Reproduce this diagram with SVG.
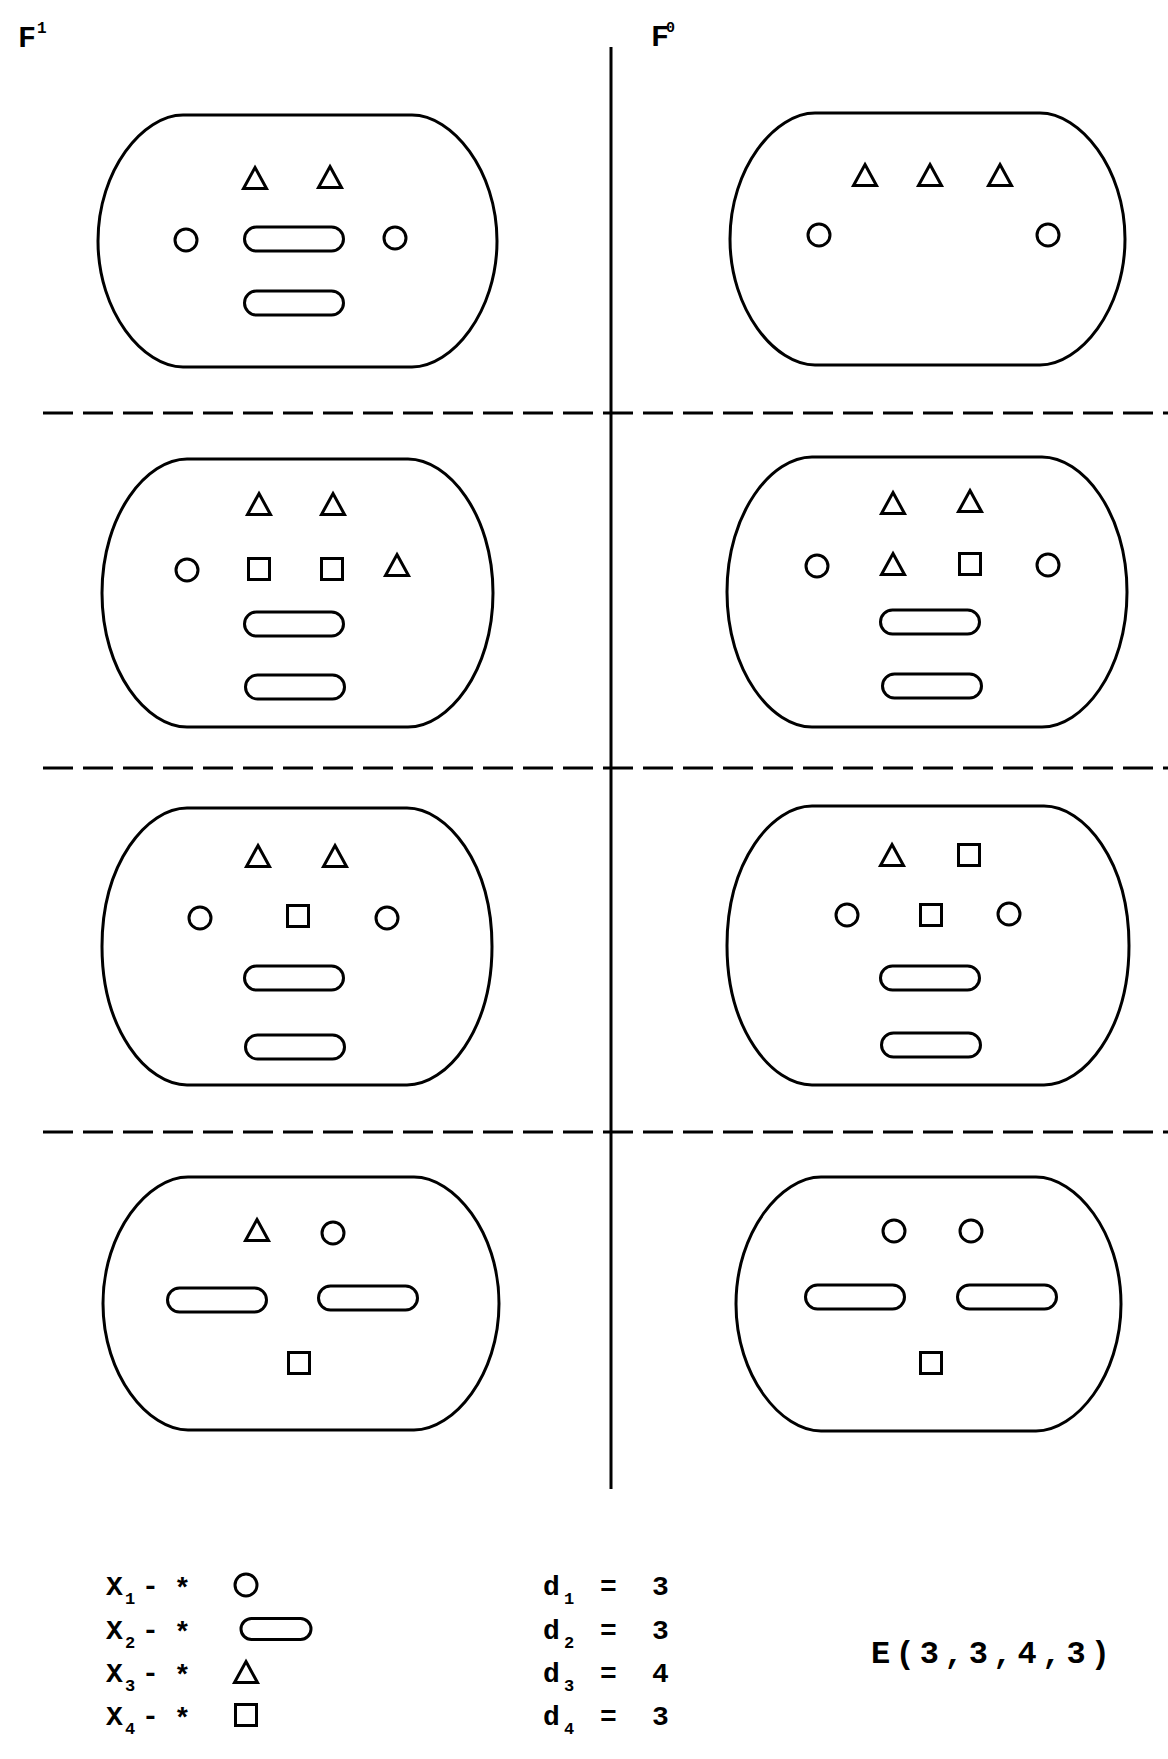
<svg xmlns="http://www.w3.org/2000/svg" width="1168" height="1759" viewBox="0 0 1168 1759">
<style>
.o{fill:none;stroke:#000;stroke-width:3}
.blob{fill:none;stroke:#000;stroke-width:3}
.dash{stroke:#000;stroke-width:3;stroke-dasharray:30 10}
.t{font-family:"Liberation Mono","DejaVu Sans Mono",monospace;font-weight:bold;fill:#000}
.lg{font-size:28px}
.sub{font-size:17px}
</style>
<defs>
<circle id="c" class="o" cx="0" cy="0" r="11"/>
<path id="tri" class="o" d="M0,-10.5 L11.5,10.5 L-11.5,10.5 Z" stroke-linejoin="miter"/>
<rect id="sq" class="o" x="-10.5" y="-10.5" width="21" height="21"/>
<rect id="st" class="o" x="-49.5" y="-12" width="99" height="24" rx="12"/>
<rect id="stl" class="o" x="-35" y="-10.5" width="70" height="21" rx="10.5"/>
</defs>

<g id="headers">
<text class="t" x="18" y="47" font-size="30">F</text>
<text class="t" x="37" y="33" font-size="16">1</text>
<text class="t" x="651" y="46" font-size="30">F</text>
<text class="t" x="666" y="32" font-size="15">0</text>
</g>

<g id="connectors">
<line x1="611" y1="47" x2="611" y2="1489" stroke="#000" stroke-width="3"/>
<line class="dash" x1="43" y1="413" x2="1168" y2="413"/>
<line class="dash" x1="43" y1="768" x2="1168" y2="768"/>
<line class="dash" x1="43" y1="1132" x2="1168" y2="1132"/>
</g>

<g id="r1-left">
<path class="blob" d="M183,115 H412 C452,115 497,170 497,241 C497,312 452,367 412,367 H183 C143,367 98,312 98,241 C98,170 143,115 183,115 Z"/>
<use href="#tri" x="255" y="178"/><use href="#tri" x="330" y="177"/>
<use href="#c" x="186" y="240"/><use href="#st" x="294" y="239"/><use href="#c" x="395" y="238"/>
<use href="#st" x="294" y="303"/>
</g>
<g id="r1-right">
<path class="blob" d="M815,113 H1040 C1080,113 1125,168 1125,239 C1125,310 1080,365 1040,365 H815 C775,365 730,310 730,239 C730,168 775,113 815,113 Z"/>
<use href="#tri" x="865" y="175"/><use href="#tri" x="930" y="175"/><use href="#tri" x="1000" y="175"/>
<use href="#c" x="819" y="235"/><use href="#c" x="1048" y="235"/>
</g>

<g id="r2-left">
<path class="blob" d="M187,459 H408 C448,459 493,514 493,593 C493,672 448,727 408,727 H187 C147,727 102,672 102,593 C102,514 147,459 187,459 Z"/>
<use href="#tri" x="259" y="504"/><use href="#tri" x="333" y="504"/>
<use href="#c" x="187" y="570"/><use href="#sq" x="259" y="569"/><use href="#sq" x="332" y="569"/><use href="#tri" x="397" y="565"/>
<use href="#st" x="294" y="624"/><use href="#st" x="295" y="687"/>
</g>
<g id="r2-right">
<path class="blob" d="M812,457 H1042 C1082,457 1127,512 1127,592 C1127,672 1082,727 1042,727 H812 C772,727 727,672 727,592 C727,512 772,457 812,457 Z"/>
<use href="#tri" x="893" y="503"/><use href="#tri" x="970" y="501"/>
<use href="#c" x="817" y="566"/><use href="#tri" x="893" y="564"/><use href="#sq" x="970" y="564"/><use href="#c" x="1048" y="565"/>
<use href="#st" x="930" y="622"/><use href="#st" x="932" y="686"/>
</g>

<g id="r3-left">
<path class="blob" d="M187,808 H407 C447,808 492,863 492,946.5 C492,1030 447,1085 407,1085 H187 C147,1085 102,1030 102,946.5 C102,863 147,808 187,808 Z"/>
<use href="#tri" x="258" y="856"/><use href="#tri" x="335" y="856"/>
<use href="#c" x="200" y="918"/><use href="#sq" x="298" y="916"/><use href="#c" x="387" y="918"/>
<use href="#st" x="294" y="978"/><use href="#st" x="295" y="1047"/>
</g>
<g id="r3-right">
<path class="blob" d="M812,806 H1044 C1084,806 1129,861 1129,945.5 C1129,1030 1084,1085 1044,1085 H812 C772,1085 727,1030 727,945.5 C727,861 772,806 812,806 Z"/>
<use href="#tri" x="892" y="855"/><use href="#sq" x="969" y="855"/>
<use href="#c" x="847" y="915"/><use href="#sq" x="931" y="915"/><use href="#c" x="1009" y="914"/>
<use href="#st" x="930" y="978"/><use href="#st" x="931" y="1045"/>
</g>

<g id="r4-left">
<path class="blob" d="M188,1177 H414 C454,1177 499,1232 499,1303.5 C499,1375 454,1430 414,1430 H188 C148,1430 103,1375 103,1303.5 C103,1232 148,1177 188,1177 Z"/>
<use href="#tri" x="257" y="1230"/><use href="#c" x="333" y="1233"/>
<use href="#st" x="217" y="1300"/><use href="#st" x="368" y="1298"/>
<use href="#sq" x="299" y="1363"/>
</g>
<g id="r4-right">
<path class="blob" d="M821,1177 H1036 C1076,1177 1121,1232 1121,1304 C1121,1376 1076,1431 1036,1431 H821 C781,1431 736,1376 736,1304 C736,1232 781,1177 821,1177 Z"/>
<use href="#c" x="894" y="1231"/><use href="#c" x="971" y="1231"/>
<use href="#st" x="855" y="1297"/><use href="#st" x="1007" y="1297"/>
<use href="#sq" x="931" y="1363"/>
</g>

<g id="legend-x">
<text class="t lg" x="106" y="1595">X</text><text class="t sub" x="125" y="1604">1</text>
<text class="t lg" x="142" y="1595">-</text><text class="t lg" x="174" y="1597">*</text>
<use href="#c" x="246" y="1585"/>
<text class="t lg" x="106" y="1639">X</text><text class="t sub" x="125" y="1648">2</text>
<text class="t lg" x="142" y="1639">-</text><text class="t lg" x="174" y="1641">*</text>
<use href="#stl" x="276" y="1629"/>
<text class="t lg" x="106" y="1682">X</text><text class="t sub" x="125" y="1691">3</text>
<text class="t lg" x="142" y="1682">-</text><text class="t lg" x="174" y="1684">*</text>
<use href="#tri" x="246" y="1672"/>
<text class="t lg" x="106" y="1725">X</text><text class="t sub" x="125" y="1734">4</text>
<text class="t lg" x="142" y="1725">-</text><text class="t lg" x="174" y="1727">*</text>
<use href="#sq" x="246" y="1715"/>
</g>

<g id="legend-d">
<text class="t lg" x="543" y="1595">d</text><text class="t sub" x="564" y="1604">1</text><text class="t lg" x="600" y="1595">=</text><text class="t lg" x="652" y="1595">3</text>
<text class="t lg" x="543" y="1639">d</text><text class="t sub" x="564" y="1648">2</text><text class="t lg" x="600" y="1639">=</text><text class="t lg" x="652" y="1639">3</text>
<text class="t lg" x="543" y="1682">d</text><text class="t sub" x="564" y="1691">3</text><text class="t lg" x="600" y="1682">=</text><text class="t lg" x="652" y="1682">4</text>
<text class="t lg" x="543" y="1725">d</text><text class="t sub" x="564" y="1734">4</text><text class="t lg" x="600" y="1725">=</text><text class="t lg" x="652" y="1725">3</text>
</g>

<g id="label-e">
<text class="t" x="871" y="1663" font-size="32" textLength="239" lengthAdjust="spacing">E(3,3,4,3)</text>
</g>
</svg>
